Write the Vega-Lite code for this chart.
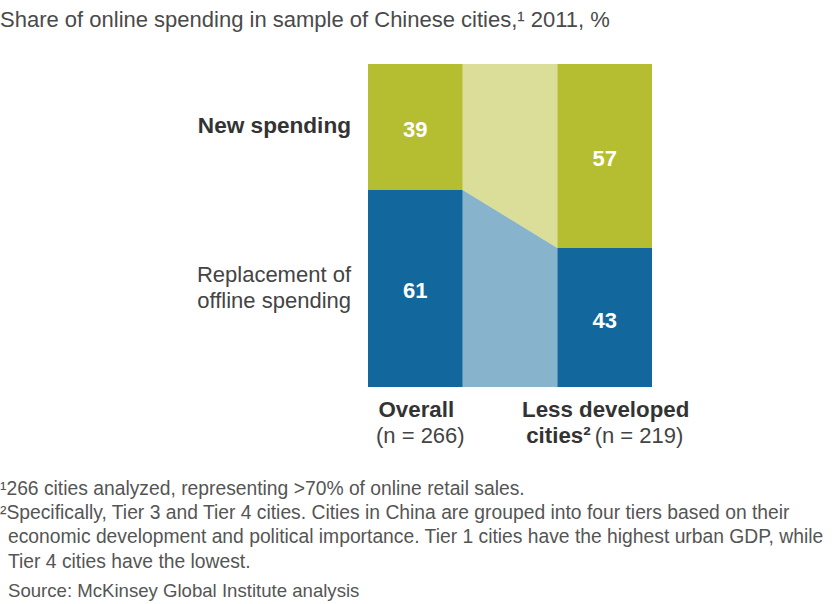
{
  "$schema": "https://vega.github.io/schema/vega-lite/v6.json",
  "width": 284,
  "height": 323,
  "autosize": {"type": "none"},
  "padding": {"left": 368, "top": 64, "right": 188, "bottom": 217},
  "background": "white",
  "config": {"font": "Liberation Sans", "view": {"stroke": null}},
  "title": {
    "text": "Share of online spending in sample of Chinese cities,¹ 2011, %",
    "anchor": "start",
    "frame": "group",
    "dx": -368,
    "offset": 32,
    "fontSize": 22,
    "fontWeight": "normal",
    "color": "#4a4a4a"
  },
  "datasets": {
    "shares": [
      {"group": "Overall", "category": "New spending", "share": 39},
      {"group": "Overall", "category": "Replacement of offline spending", "share": 61},
      {"group": "Less developed cities", "category": "New spending", "share": 57},
      {"group": "Less developed cities", "category": "Replacement of offline spending", "share": 43}
    ],
    "shift": [
      {"group": "shift", "replacement": 61},
      {"group": "Less developed cities", "replacement": 43}
    ],
    "groups": [
      {"group": "Overall", "name": "Overall", "name2": "", "sample": "(n = 266)"},
      {"group": "Less developed cities", "name": "Less developed", "name2": "cities²", "sample": "(n = 219)"}
    ],
    "notes": [
      {"group": "Overall",
       "lines": [
        "¹266 cities analyzed, representing >70% of online retail sales.",
        "²Specifically, Tier 3 and Tier 4 cities. Cities in China are grouped into four tiers based on their"
       ],
       "continued": [
        "economic development and political importance. Tier 1 cities have the highest urban GDP, while",
        "Tier 4 cities have the lowest."
       ],
       "source": "Source: McKinsey Global Institute analysis"}
    ]
  },
  "layer": [
    {
      "data": {"name": "shift"},
      "mark": {"type": "area", "color": "#12679c", "opacity": 0.5},
      "encoding": {
        "x": {"field": "group", "type": "nominal", "bandPosition": 0,
          "scale": {"domain": ["Overall", "shift", "Less developed cities"], "paddingInner": 0, "paddingOuter": 0}, "axis": null},
        "y": {"field": "replacement", "type": "quantitative", "scale": {"domain": [0, 100], "nice": false}, "axis": null},
        "y2": {"datum": 0}
      }
    },
    {
      "data": {"name": "shift"},
      "mark": {"type": "area", "color": "#b5bd31", "opacity": 0.5},
      "encoding": {
        "x": {"field": "group", "type": "nominal", "bandPosition": 0,
          "scale": {"domain": ["Overall", "shift", "Less developed cities"], "paddingInner": 0, "paddingOuter": 0}, "axis": null},
        "y": {"field": "replacement", "type": "quantitative", "axis": null},
        "y2": {"datum": 100}
      }
    },
    {
      "data": {"name": "shares"},
      "transform": [
        {"stack": "share", "groupby": ["group"], "sort": [{"field": "category", "order": "descending"}], "as": ["lo", "hi"]},
        {"calculate": "(datum.lo + datum.hi) / 2", "as": "mid"}
      ],
      "layer": [
        {
          "mark": {"type": "bar"},
          "encoding": {
            "x": {"field": "group", "type": "nominal",
              "scale": {"domain": ["Overall", "shift", "Less developed cities"], "paddingInner": 0, "paddingOuter": 0}, "axis": null},
            "y": {"field": "lo", "type": "quantitative", "axis": null},
            "y2": {"field": "hi"},
            "color": {"field": "category", "type": "nominal",
              "scale": {"domain": ["New spending", "Replacement of offline spending"], "range": ["#b5bd31", "#12679c"]}, "legend": null}
          }
        },
        {
          "mark": {"type": "text", "color": "white", "fontWeight": "bold", "fontSize": 22, "baseline": "middle", "dy": 3},
          "encoding": {
            "x": {"field": "group", "type": "nominal",
              "scale": {"domain": ["Overall", "shift", "Less developed cities"], "paddingInner": 0, "paddingOuter": 0}, "axis": null},
            "y": {"field": "mid", "type": "quantitative", "axis": null},
            "text": {"field": "share", "type": "quantitative"}
          }
        },
        {
          "transform": [{"filter": "datum.group === 'Overall' && datum.category === 'New spending'"}],
          "mark": {"type": "text", "color": "#333333", "fontWeight": "bold", "fontSize": 22.6, "align": "right", "baseline": "middle", "dx": -17, "dy": -1},
          "encoding": {
            "x": {"field": "group", "type": "nominal", "bandPosition": 0,
              "scale": {"domain": ["Overall", "shift", "Less developed cities"], "paddingInner": 0, "paddingOuter": 0}, "axis": null},
            "y": {"field": "mid", "type": "quantitative", "axis": null},
            "text": {"field": "category"}
          }
        },
        {
          "transform": [{"filter": "datum.group === 'Overall' && datum.category === 'Replacement of offline spending'"}],
          "mark": {"type": "text", "color": "#444444", "fontWeight": "normal", "fontSize": 22, "align": "right", "baseline": "middle", "dx": -17, "dy": -13, "lineHeight": 26},
          "encoding": {
            "x": {"field": "group", "type": "nominal", "bandPosition": 0,
              "scale": {"domain": ["Overall", "shift", "Less developed cities"], "paddingInner": 0, "paddingOuter": 0}, "axis": null},
            "y": {"field": "mid", "type": "quantitative", "axis": null},
            "text": {"value": ["Replacement of", "offline spending"]}
          }
        }
      ]
    },
    {
      "data": {"name": "groups"},
      "layer": [
        {
          "mark": {"type": "text", "color": "#333333", "fontWeight": "bold", "fontSize": 22.3, "baseline": "middle", "dy": 23, "dx": 1},
          "encoding": {
            "x": {"field": "group", "type": "nominal",
              "scale": {"domain": ["Overall", "shift", "Less developed cities"], "paddingInner": 0, "paddingOuter": 0}, "axis": null},
            "y": {"datum": 0, "type": "quantitative", "axis": null},
            "text": {"field": "name"}
          }
        },
        {
          "transform": [{"filter": "datum.group === 'Overall'"}],
          "mark": {"type": "text", "color": "#444444", "fontWeight": "normal", "fontSize": 22, "baseline": "middle", "dy": 49, "dx": 5},
          "encoding": {
            "x": {"field": "group", "type": "nominal",
              "scale": {"domain": ["Overall", "shift", "Less developed cities"], "paddingInner": 0, "paddingOuter": 0}, "axis": null},
            "y": {"datum": 0, "type": "quantitative", "axis": null},
            "text": {"field": "sample"}
          }
        },
        {
          "transform": [{"filter": "datum.group === 'Less developed cities'"}],
          "mark": {"type": "text", "color": "#333333", "fontWeight": "bold", "fontSize": 22.3, "baseline": "middle", "align": "right", "dy": 49, "dx": -14},
          "encoding": {
            "x": {"field": "group", "type": "nominal",
              "scale": {"domain": ["Overall", "shift", "Less developed cities"], "paddingInner": 0, "paddingOuter": 0}, "axis": null},
            "y": {"datum": 0, "type": "quantitative", "axis": null},
            "text": {"field": "name2"}
          }
        },
        {
          "transform": [{"filter": "datum.group === 'Less developed cities'"}],
          "mark": {"type": "text", "color": "#444444", "fontWeight": "normal", "fontSize": 22, "baseline": "middle", "align": "left", "dy": 49, "dx": -10},
          "encoding": {
            "x": {"field": "group", "type": "nominal",
              "scale": {"domain": ["Overall", "shift", "Less developed cities"], "paddingInner": 0, "paddingOuter": 0}, "axis": null},
            "y": {"datum": 0, "type": "quantitative", "axis": null},
            "text": {"field": "sample"}
          }
        }
      ]
    },
    {
      "data": {"name": "notes"},
      "layer": [
        {
          "mark": {"type": "text", "color": "#555555", "fontWeight": "normal", "fontSize": 19.3, "align": "left", "baseline": "top", "dx": -368, "dy": 93, "lineHeight": 24.2},
          "encoding": {
            "x": {"field": "group", "type": "nominal", "bandPosition": 0,
              "scale": {"domain": ["Overall", "shift", "Less developed cities"], "paddingInner": 0, "paddingOuter": 0}, "axis": null},
            "y": {"datum": 0, "type": "quantitative", "axis": null},
            "text": {"field": "lines"}
          }
        },
        {
          "mark": {"type": "text", "color": "#555555", "fontWeight": "normal", "fontSize": 19.3, "align": "left", "baseline": "top", "dx": -360, "dy": 141.4, "lineHeight": 24.2},
          "encoding": {
            "x": {"field": "group", "type": "nominal", "bandPosition": 0,
              "scale": {"domain": ["Overall", "shift", "Less developed cities"], "paddingInner": 0, "paddingOuter": 0}, "axis": null},
            "y": {"datum": 0, "type": "quantitative", "axis": null},
            "text": {"field": "continued"}
          }
        },
        {
          "mark": {"type": "text", "color": "#555555", "fontWeight": "normal", "fontSize": 18.6, "align": "left", "baseline": "top", "dx": -360, "dy": 195},
          "encoding": {
            "x": {"field": "group", "type": "nominal", "bandPosition": 0,
              "scale": {"domain": ["Overall", "shift", "Less developed cities"], "paddingInner": 0, "paddingOuter": 0}, "axis": null},
            "y": {"datum": 0, "type": "quantitative", "axis": null},
            "text": {"field": "source"}
          }
        }
      ]
    }
  ]
}
